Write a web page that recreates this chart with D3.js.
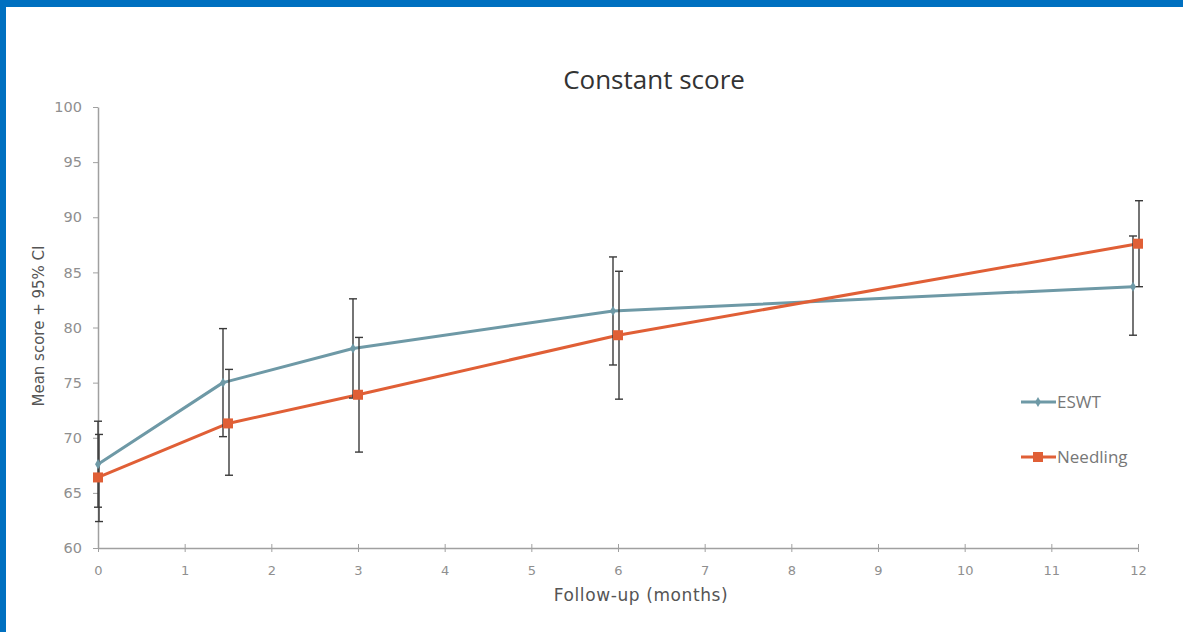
<!DOCTYPE html>
<html>
<head>
<meta charset="utf-8">
<script src="https://cdn.jsdelivr.net/npm/d3@7"></script>
<style>
  html, body { margin: 0; padding: 0; background: #fff; }
  svg { display: block; font-family: "Open Sans", "DejaVu Sans", sans-serif; }
</style>
</head>
<body>
<svg id="chart" width="1183" height="632"></svg>
<script>
// Follow-up time points (months)
const months = [0, 1.5, 3, 6, 12];

// ESWT: mean Constant score with 95% CI
const eswtMean  = [67.6, 75.0, 78.1, 81.5, 83.7];
const eswtLower = [63.7, 70.1, 73.6, 76.6, 79.3];
const eswtUpper = [71.5, 79.9, 82.6, 86.4, 88.3];

// Needling: mean Constant score with 95% CI
const needMean  = [66.4, 71.3, 73.9, 79.3, 87.6];
const needLower = [62.4, 66.6, 68.7, 73.5, 83.7];
const needUpper = [70.3, 76.2, 79.1, 85.1, 91.5];

const xTicks = [0, 1, 2, 3, 4, 5, 6, 7, 8, 9, 10, 11, 12];
const yTicks = [60, 65, 70, 75, 80, 85, 90, 95, 100];

const seriesNames = ["ESWT", "Needling"];
const seriesColors = ["#6e99a6", "#e05f36"];

const svg = d3.select("#chart");
const W = 1183, H = 632;

// page frame
svg.append("rect").attr("x", 0).attr("y", 0).attr("width", W).attr("height", H).attr("fill", "#fff");
svg.append("rect").attr("x", 0).attr("y", 0).attr("width", W).attr("height", 7).attr("fill", "#0070c0");
svg.append("rect").attr("x", 0).attr("y", 0).attr("width", 6).attr("height", H).attr("fill", "#0070c0");

const plot = { left: 98, right: 1138, top: 107, bottom: 548 };

const x = d3.scaleLinear().domain([0, 12]).range([plot.left, plot.right]);
const y = d3.scaleLinear().domain([60, 100]).range([plot.bottom, plot.top]);

const axisColor = "#a0a0a0";
const tickTextColor = "#8f8f8f";
const tickFont = "'DejaVu Sans', sans-serif";

// x axis
const gx = svg.append("g").attr("transform", `translate(0,${plot.bottom})`)
  .call(d3.axisBottom(x).tickValues(xTicks).tickFormat(d3.format("d")).tickSizeInner(4).tickSizeOuter(0).tickPadding(14));
gx.select(".domain").attr("stroke", axisColor).attr("stroke-width", 1.5);
gx.selectAll(".tick line").attr("stroke", axisColor).attr("y1", -4).attr("y2", 4);
gx.selectAll(".tick text").attr("fill", tickTextColor).attr("font-size", 13).attr("font-family", tickFont);

// y axis
const gy = svg.append("g").attr("transform", `translate(${plot.left},0)`)
  .call(d3.axisLeft(y).tickValues(yTicks).tickFormat(d3.format("d")).tickSizeInner(5).tickSizeOuter(0).tickPadding(11));
gy.select(".domain").attr("stroke", axisColor).attr("stroke-width", 1.5);
gy.selectAll(".tick line").attr("stroke", axisColor);
gy.selectAll(".tick text").attr("fill", tickTextColor).attr("font-size", 14.5).attr("font-family", tickFont);

// titles
svg.append("text").attr("x", 654).attr("y", 89).attr("text-anchor", "middle")
  .attr("font-size", 26).attr("fill", "#333").text("Constant score");
svg.append("text").attr("x", 641).attr("y", 601).attr("text-anchor", "middle")
  .attr("font-size", 17).attr("letter-spacing", 0.6).attr("font-family", tickFont)
  .attr("fill", "#555").text("Follow-up (months)");
svg.append("text").attr("transform", "translate(44,326) rotate(-90)").attr("text-anchor", "middle")
  .attr("font-size", 15).attr("font-family", tickFont)
  .attr("fill", "#555").text("Mean score + 95% CI");

// ESWT drawn slightly to the left of each time point so the two CIs stay readable
const dodge = [-5, 0];
const px = (m, s) => Math.max(plot.left, x(m) + dodge[s]);

const series = [
  { mean: eswtMean, lo: eswtLower, hi: eswtUpper },
  { mean: needMean, lo: needLower, hi: needUpper }
];

const line = s => d3.line().x((d, i) => px(months[i], s)).y(d => y(d));

// lines
series.forEach((ser, s) => {
  svg.append("path").datum(ser.mean)
    .attr("fill", "none").attr("stroke", seriesColors[s]).attr("stroke-width", 3)
    .attr("stroke-linejoin", "round").attr("d", line(s));
});

// error bars
series.forEach((ser, s) => {
  const g = svg.append("g").attr("stroke", "#3a3a3a").attr("stroke-width", 1.4);
  ser.mean.forEach((m, i) => {
    const cx = px(months[i], s) + (s === 0 ? 0 : 1);
    g.append("line").attr("x1", cx).attr("x2", cx).attr("y1", y(ser.lo[i])).attr("y2", y(ser.hi[i]));
    g.append("line").attr("x1", cx - 4).attr("x2", cx + 4).attr("y1", y(ser.lo[i])).attr("y2", y(ser.lo[i]));
    g.append("line").attr("x1", cx - 4).attr("x2", cx + 4).attr("y1", y(ser.hi[i])).attr("y2", y(ser.hi[i]));
  });
});

// markers
const eswtSym = d3.symbol().type(d3.symbolDiamond).size(30);
svg.append("g").selectAll("path").data(eswtMean).join("path")
  .attr("transform", (d, i) => `translate(${px(months[i], 0)},${y(d)})`)
  .attr("d", eswtSym).attr("fill", seriesColors[0]);
svg.append("g").selectAll("rect").data(needMean).join("rect")
  .attr("x", (d, i) => px(months[i], 1) - 5).attr("y", d => y(d) - 5)
  .attr("width", 10).attr("height", 10).attr("fill", seriesColors[1]);

// legend
const legendY = [402, 457];
seriesNames.forEach((name, s) => {
  const g = svg.append("g").attr("transform", `translate(1021,${legendY[s]})`);
  g.append("line").attr("x1", 0).attr("x2", 35).attr("y1", 0).attr("y2", 0)
    .attr("stroke", seriesColors[s]).attr("stroke-width", 3);
  if (s === 0) {
    g.append("path").attr("transform", "translate(17,0)").attr("d", eswtSym).attr("fill", seriesColors[0]);
  } else {
    g.append("rect").attr("x", 12).attr("y", -5).attr("width", 10).attr("height", 10).attr("fill", seriesColors[1]);
  }
  g.append("text").attr("x", 36).attr("y", 0).attr("dy", "0.35em")
    .attr("font-size", 17).attr("fill", "#777").text(name);
});
</script>
</body>
</html>
